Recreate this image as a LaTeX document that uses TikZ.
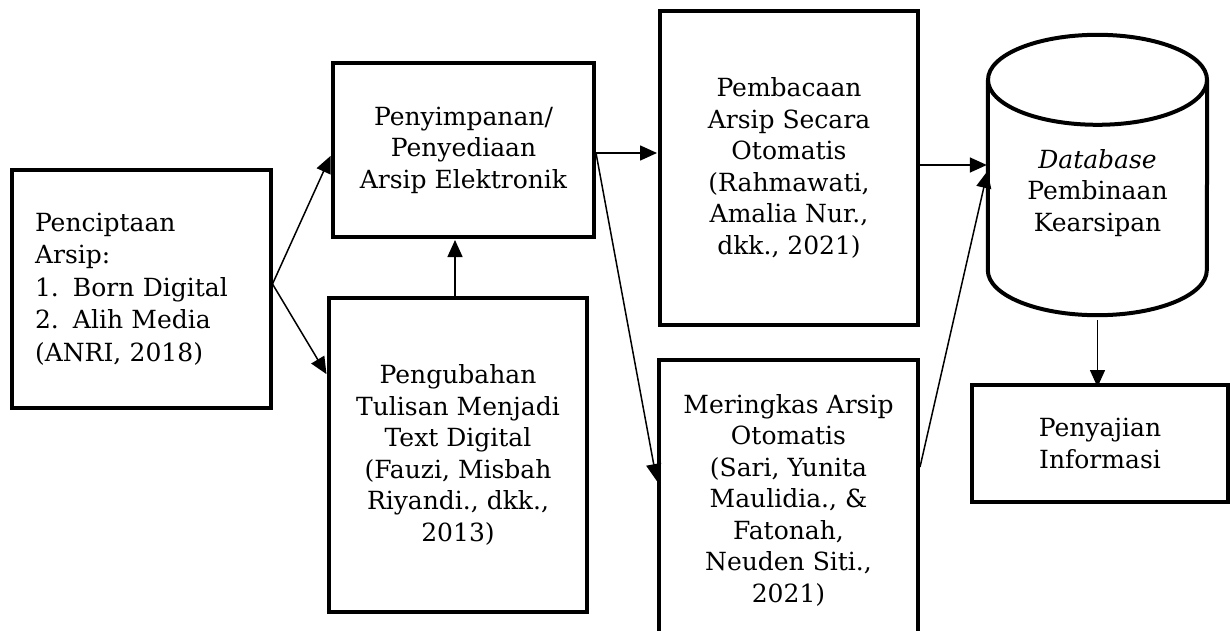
\documentclass[tikz,border=0pt]{standalone}
\usepackage{fontspec}
\setmainfont{DejaVu Serif}
\usetikzlibrary{arrows.meta}
\begin{document}
\begin{tikzpicture}[x=1pt,y=-1pt,
  every node/.style={font=\fontsize{25}{31.5}\selectfont},
  box/.style={draw=black,line width=4pt,rectangle,inner sep=0pt,align=center},
  arr/.style={line width=1.5pt,-{Triangle[length=17pt,width=15pt]},shorten >=1pt}]
\useasboundingbox (0,0) rectangle (1230,631);
% boxes
\node[box,minimum width=259pt,minimum height=238pt,align=left,text width=212pt,
  font=\fontsize{25}{32.5}\selectfont] (A) at (141,289)
  {Penciptaan\\Arsip:\\\makebox[38pt][l]{1.}Born Digital\\\makebox[38pt][l]{2.}Alih Media\\(ANRI, 2018)};
\node[box,minimum width=261pt,minimum height=174pt] (B) at (463.5,150)
  {Penyimpanan/\\Penyediaan\\Arsip Elektronik};
\node[box,minimum width=258pt,minimum height=314pt] (C) at (458,455)
  {Pengubahan\\Tulisan Menjadi\\Text Digital\\(Fauzi, Misbah\\Riyandi., dkk.,\\2013)};
\node[box,minimum width=258pt,minimum height=314pt] (D) at (789,168)
  {Pembacaan\\Arsip Secara\\Otomatis\\(Rahmawati,\\Amalia Nur.,\\dkk., 2021)};
\node[box,minimum width=259pt,minimum height=280pt] (E) at (788.5,500)
  {Meringkas Arsip\\Otomatis\\(Sari, Yunita\\Maulidia., \&\\Fatonah,\\Neuden Siti.,\\2021)};
\node[box,minimum width=256pt,minimum height=117pt] (F) at (1100,443.5)
  {Penyajian\\Informasi};
% cylinder
\node[rectangle,inner sep=0pt,minimum width=219pt,minimum height=280pt] (cyl) at (1097.5,175) {};
\draw[line width=4pt,line join=round] (cyl.north west) ++(0,45)
  -- ([yshift=45pt]cyl.south west)
  arc[start angle=180,end angle=360,x radius=109.5pt,y radius=45pt]
  -- ([yshift=-45pt]cyl.north east);
\draw[line width=4pt] ([yshift=-45pt]cyl.north) ellipse[x radius=109.5pt,y radius=45pt];
\node[align=center,inner sep=0pt] (dbtext) at (1097.5,193)
  {\textit{Database}\\Pembinaan\\Kearsipan};
% connectors
\draw[arr] ([yshift=5pt]A.east) -- ([yshift=-5pt]B.west);
\draw[arr] ([yshift=5pt]A.east) -- ([yshift=80pt]C.west);
\draw[arr] ([xshift=-3pt]C.north) -- ([xshift=-3pt]C.north |- B.south);
\draw[arr] ([yshift=-3pt]B.east) -- ([yshift=-3pt]B.east -| D.west);
\draw[arr] ([yshift=-3pt]B.east) -- ([yshift=18pt]E.west);
\draw[arr] ([yshift=3pt]D.east) -- ([yshift=3pt]D.east -| cyl.west);
\draw[arr] ([yshift=33pt]E.east) -- ([yshift=5pt]cyl.west);
\draw[arr] ([yshift=-5pt]cyl.south) -- ([yshift=-5pt]cyl.south |- F.north);
\end{tikzpicture}
\end{document}
